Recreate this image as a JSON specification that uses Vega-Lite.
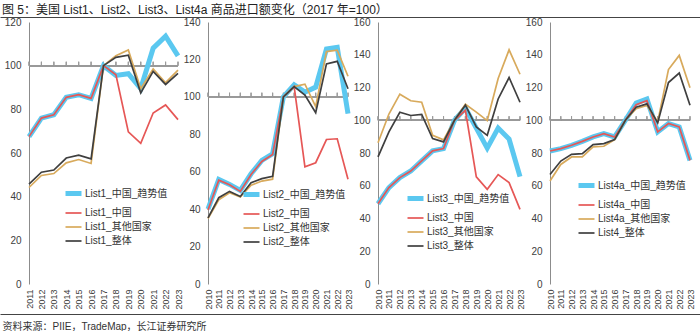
{
"$schema": "https://vega.github.io/schema/vega-lite/v6.json",
"padding": {"left": 0, "top": 4, "right": 0, "bottom": 0},
"title": {"text": "图 5：美国 List1、List2、List3、List4a 商品进口额变化（2017 年=100）", "anchor": "start", "frame": "group", "dx": -27, "offset": 0, "fontSize": 12, "fontWeight": "normal", "color": "#222222", "font": "Liberation Sans, Noto Sans CJK SC, sans-serif"},
"datasets": {
"p1": [
{"year":2011,"s":"List1_中国_趋势值","v":67.5},{"year":2012,"s":"List1_中国_趋势值","v":76},{"year":2013,"s":"List1_中国_趋势值","v":77.5},{"year":2014,"s":"List1_中国_趋势值","v":85.5},{"year":2015,"s":"List1_中国_趋势值","v":86.7},{"year":2016,"s":"List1_中国_趋势值","v":85},{"year":2017,"s":"List1_中国_趋势值","v":100},{"year":2018,"s":"List1_中国_趋势值","v":95.5},{"year":2019,"s":"List1_中国_趋势值","v":96.3},{"year":2020,"s":"List1_中国_趋势值","v":89.5},{"year":2021,"s":"List1_中国_趋势值","v":108},{"year":2022,"s":"List1_中国_趋势值","v":113.5},{"year":2023,"s":"List1_中国_趋势值","v":104.5},
{"year":2011,"s":"List1_中国","v":67.5},{"year":2012,"s":"List1_中国","v":76},{"year":2013,"s":"List1_中国","v":77.5},{"year":2014,"s":"List1_中国","v":85.5},{"year":2015,"s":"List1_中国","v":86.7},{"year":2016,"s":"List1_中国","v":85},{"year":2017,"s":"List1_中国","v":100},{"year":2018,"s":"List1_中国","v":95.8},{"year":2019,"s":"List1_中国","v":69.7},{"year":2020,"s":"List1_中国","v":64.4},{"year":2021,"s":"List1_中国","v":78.3},{"year":2022,"s":"List1_中国","v":82},{"year":2023,"s":"List1_中国","v":75.3},
{"year":2011,"s":"List1_其他国家","v":44.2},{"year":2012,"s":"List1_其他国家","v":49.7},{"year":2013,"s":"List1_其他国家","v":50.6},{"year":2014,"s":"List1_其他国家","v":55.5},{"year":2015,"s":"List1_其他国家","v":57},{"year":2016,"s":"List1_其他国家","v":55.2},{"year":2017,"s":"List1_其他国家","v":100},{"year":2018,"s":"List1_其他国家","v":104.5},{"year":2019,"s":"List1_其他国家","v":107.2},{"year":2020,"s":"List1_其他国家","v":89.4},{"year":2021,"s":"List1_其他国家","v":98.5},{"year":2022,"s":"List1_其他国家","v":92.2},{"year":2023,"s":"List1_其他国家","v":98},
{"year":2011,"s":"List1_整体","v":45.7},{"year":2012,"s":"List1_整体","v":51.2},{"year":2013,"s":"List1_整体","v":52.2},{"year":2014,"s":"List1_整体","v":57.7},{"year":2015,"s":"List1_整体","v":59},{"year":2016,"s":"List1_整体","v":57.3},{"year":2017,"s":"List1_整体","v":100},{"year":2018,"s":"List1_整体","v":103.8},{"year":2019,"s":"List1_整体","v":104.8},{"year":2020,"s":"List1_整体","v":87.5},{"year":2021,"s":"List1_整体","v":97.4},{"year":2022,"s":"List1_整体","v":91.4},{"year":2023,"s":"List1_整体","v":96.5}
],
"p2": [
{"year":2010,"s":"List2_中国_趋势值","v":40},{"year":2011,"s":"List2_中国_趋势值","v":55.9},{"year":2012,"s":"List2_中国_趋势值","v":53.2},{"year":2013,"s":"List2_中国_趋势值","v":50},{"year":2014,"s":"List2_中国_趋势值","v":58.9},{"year":2015,"s":"List2_中国_趋势值","v":66},{"year":2016,"s":"List2_中国_趋势值","v":69.6},{"year":2017,"s":"List2_中国_趋势值","v":100},{"year":2018,"s":"List2_中国_趋势值","v":106.4},{"year":2019,"s":"List2_中国_趋势值","v":102.5},{"year":2020,"s":"List2_中国_趋势值","v":105.2},{"year":2021,"s":"List2_中国_趋势值","v":125.6},{"year":2022,"s":"List2_中国_趋势值","v":126.5},{"year":2023,"s":"List2_中国_趋势值","v":91},
{"year":2010,"s":"List2_中国","v":39.5},{"year":2011,"s":"List2_中国","v":55.5},{"year":2012,"s":"List2_中国","v":53},{"year":2013,"s":"List2_中国","v":49.5},{"year":2014,"s":"List2_中国","v":58.5},{"year":2015,"s":"List2_中国","v":65.5},{"year":2016,"s":"List2_中国","v":69.2},{"year":2017,"s":"List2_中国","v":100},{"year":2018,"s":"List2_中国","v":105.5},{"year":2019,"s":"List2_中国","v":62.6},{"year":2020,"s":"List2_中国","v":64.8},{"year":2021,"s":"List2_中国","v":77.2},{"year":2022,"s":"List2_中国","v":77.6},{"year":2023,"s":"List2_中国","v":56},
{"year":2010,"s":"List2_其他国家","v":35},{"year":2011,"s":"List2_其他国家","v":45},{"year":2012,"s":"List2_其他国家","v":48.8},{"year":2013,"s":"List2_其他国家","v":46.5},{"year":2014,"s":"List2_其他国家","v":52.8},{"year":2015,"s":"List2_其他国家","v":55},{"year":2016,"s":"List2_其他国家","v":56},{"year":2017,"s":"List2_其他国家","v":100},{"year":2018,"s":"List2_其他国家","v":105.5},{"year":2019,"s":"List2_其他国家","v":106.8},{"year":2020,"s":"List2_其他国家","v":94.8},{"year":2021,"s":"List2_其他国家","v":124.2},{"year":2022,"s":"List2_其他国家","v":125},{"year":2023,"s":"List2_其他国家","v":111},
{"year":2010,"s":"List2_整体","v":35.3},{"year":2011,"s":"List2_整体","v":46.1},{"year":2012,"s":"List2_整体","v":49.5},{"year":2013,"s":"List2_整体","v":46.8},{"year":2014,"s":"List2_整体","v":54.1},{"year":2015,"s":"List2_整体","v":56.3},{"year":2016,"s":"List2_整体","v":57.5},{"year":2017,"s":"List2_整体","v":100},{"year":2018,"s":"List2_整体","v":105.5},{"year":2019,"s":"List2_整体","v":101},{"year":2020,"s":"List2_整体","v":91.5},{"year":2021,"s":"List2_整体","v":117.6},{"year":2022,"s":"List2_整体","v":119},{"year":2023,"s":"List2_整体","v":104.3}
],
"p3": [
{"year":2010,"s":"List3_中国_趋势值","v":49},{"year":2011,"s":"List3_中国_趋势值","v":58.9},{"year":2012,"s":"List3_中国_趋势值","v":65},{"year":2013,"s":"List3_中国_趋势值","v":69},{"year":2014,"s":"List3_中国_趋势值","v":75.2},{"year":2015,"s":"List3_中国_趋势值","v":81.3},{"year":2016,"s":"List3_中国_趋势值","v":82.7},{"year":2017,"s":"List3_中国_趋势值","v":100},{"year":2018,"s":"List3_中国_趋势值","v":107.5},{"year":2019,"s":"List3_中国_趋势值","v":95.2},{"year":2020,"s":"List3_中国_趋势值","v":83},{"year":2021,"s":"List3_中国_趋势值","v":95.2},{"year":2022,"s":"List3_中国_趋势值","v":88.5},{"year":2023,"s":"List3_中国_趋势值","v":65.6},
{"year":2010,"s":"List3_中国","v":49},{"year":2011,"s":"List3_中国","v":58.9},{"year":2012,"s":"List3_中国","v":65},{"year":2013,"s":"List3_中国","v":69},{"year":2014,"s":"List3_中国","v":75.2},{"year":2015,"s":"List3_中国","v":81.3},{"year":2016,"s":"List3_中国","v":82.7},{"year":2017,"s":"List3_中国","v":100},{"year":2018,"s":"List3_中国","v":106.1},{"year":2019,"s":"List3_中国","v":65.4},{"year":2020,"s":"List3_中国","v":57.8},{"year":2021,"s":"List3_中国","v":66.8},{"year":2022,"s":"List3_中国","v":61.9},{"year":2023,"s":"List3_中国","v":45.6},
{"year":2010,"s":"List3_其他国家","v":86.3},{"year":2011,"s":"List3_其他国家","v":103.8},{"year":2012,"s":"List3_其他国家","v":115.9},{"year":2013,"s":"List3_其他国家","v":111.9},{"year":2014,"s":"List3_其他国家","v":111},{"year":2015,"s":"List3_其他国家","v":90.8},{"year":2016,"s":"List3_其他国家","v":88},{"year":2017,"s":"List3_其他国家","v":100},{"year":2018,"s":"List3_其他国家","v":109.8},{"year":2019,"s":"List3_其他国家","v":105},{"year":2020,"s":"List3_其他国家","v":99.8},{"year":2021,"s":"List3_其他国家","v":125.5},{"year":2022,"s":"List3_其他国家","v":143},{"year":2023,"s":"List3_其他国家","v":128.1},
{"year":2010,"s":"List3_整体","v":77.6},{"year":2011,"s":"List3_整体","v":92.9},{"year":2012,"s":"List3_整体","v":104.9},{"year":2013,"s":"List3_整体","v":102.9},{"year":2014,"s":"List3_整体","v":103.5},{"year":2015,"s":"List3_整体","v":88.8},{"year":2016,"s":"List3_整体","v":86.8},{"year":2017,"s":"List3_整体","v":100},{"year":2018,"s":"List3_整体","v":109.2},{"year":2019,"s":"List3_整体","v":95.9},{"year":2020,"s":"List3_整体","v":90.8},{"year":2021,"s":"List3_整体","v":113},{"year":2022,"s":"List3_整体","v":126.1},{"year":2023,"s":"List3_整体","v":111}
],
"p4": [
{"year":2010,"s":"List4a_中国_趋势值","v":81.2},{"year":2011,"s":"List4a_中国_趋势值","v":82.7},{"year":2012,"s":"List4a_中国_趋势值","v":84.7},{"year":2013,"s":"List4a_中国_趋势值","v":87.1},{"year":2014,"s":"List4a_中国_趋势值","v":89.8},{"year":2015,"s":"List4a_中国_趋势值","v":91.8},{"year":2016,"s":"List4a_中国_趋势值","v":89.8},{"year":2017,"s":"List4a_中国_趋势值","v":100},{"year":2018,"s":"List4a_中国_趋势值","v":110.5},{"year":2019,"s":"List4a_中国_趋势值","v":113},{"year":2020,"s":"List4a_中国_趋势值","v":92.9},{"year":2021,"s":"List4a_中国_趋势值","v":98},{"year":2022,"s":"List4a_中国_趋势值","v":95.9},{"year":2023,"s":"List4a_中国_趋势值","v":75.5},
{"year":2010,"s":"List4a_中国","v":81.2},{"year":2011,"s":"List4a_中国","v":82.7},{"year":2012,"s":"List4a_中国","v":84.7},{"year":2013,"s":"List4a_中国","v":87.1},{"year":2014,"s":"List4a_中国","v":89.8},{"year":2015,"s":"List4a_中国","v":91.8},{"year":2016,"s":"List4a_中国","v":89.8},{"year":2017,"s":"List4a_中国","v":100},{"year":2018,"s":"List4a_中国","v":109.5},{"year":2019,"s":"List4a_中国","v":112},{"year":2020,"s":"List4a_中国","v":92.9},{"year":2021,"s":"List4a_中国","v":98},{"year":2022,"s":"List4a_中国","v":95.9},{"year":2023,"s":"List4a_中国","v":75.5},
{"year":2010,"s":"List4a_其他国家","v":62.9},{"year":2011,"s":"List4a_其他国家","v":73},{"year":2012,"s":"List4a_其他国家","v":77.6},{"year":2013,"s":"List4a_其他国家","v":77.6},{"year":2014,"s":"List4a_其他国家","v":83.7},{"year":2015,"s":"List4a_其他国家","v":84.1},{"year":2016,"s":"List4a_其他国家","v":88.2},{"year":2017,"s":"List4a_其他国家","v":100},{"year":2018,"s":"List4a_其他国家","v":107},{"year":2019,"s":"List4a_其他国家","v":109},{"year":2020,"s":"List4a_其他国家","v":99},{"year":2021,"s":"List4a_其他国家","v":131},{"year":2022,"s":"List4a_其他国家","v":139.6},{"year":2023,"s":"List4a_其他国家","v":119.9},
{"year":2010,"s":"List4_整体","v":66.9},{"year":2011,"s":"List4_整体","v":75.1},{"year":2012,"s":"List4_整体","v":79.2},{"year":2013,"s":"List4_整体","v":79.6},{"year":2014,"s":"List4_整体","v":85.1},{"year":2015,"s":"List4_整体","v":85.7},{"year":2016,"s":"List4_整体","v":88.2},{"year":2017,"s":"List4_整体","v":100},{"year":2018,"s":"List4_整体","v":108},{"year":2019,"s":"List4_整体","v":110},{"year":2020,"s":"List4_整体","v":98.4},{"year":2021,"s":"List4_整体","v":123},{"year":2022,"s":"List4_整体","v":128.8},{"year":2023,"s":"List4_整体","v":109.1}
],
"edge": [{"e": 0}, {"e": 1}]
},
"spacing": 30,
"bounds": "flush",
"resolve": {"scale": {"color": "independent", "strokeWidth": "independent"}},
"hconcat": [
{
"width": 149, "height": 262,
"data": {"name": "p1"},
"resolve": {"scale": {"x": "independent"}, "axis": {"x": "independent"}},
"layer": [
{"mark": {"type": "rule", "color": "#999999", "strokeWidth": 1}, "encoding": {"y": {"datum": 100, "type": "quantitative", "scale": {"domain": [0, 120]}, "axis": {"values": [0, 20, 40, 60, 80, 100, 120], "title": null}}}},
{"mark": {"type": "tick", "orient": "vertical", "size": 4, "thickness": 1, "color": "#999999", "yOffset": -2}, "encoding": {"x": {"field": "year", "type": "ordinal", "scale": {"type": "point", "padding": 0}, "axis": null}, "y": {"datum": 100, "type": "quantitative", "scale": {"domain": [0, 120]}, "axis": {"values": [0, 20, 40, 60, 80, 100, 120], "title": null}}}},
{"mark": {"type": "line"},
"encoding": {
"x": {"field": "year", "type": "ordinal", "scale": {"type": "point", "padding": 0}, "axis": {"title": null, "orient": "bottom"}},
"y": {"field": "v", "type": "quantitative", "scale": {"domain": [0, 120]}, "axis": {"values": [0, 20, 40, 60, 80, 100, 120], "title": null}},
"color": {"field": "s", "type": "nominal", "scale": {"domain": ["List1_中国_趋势值", "List1_中国", "List1_其他国家", "List1_整体"], "range": ["#5BC8F0", "#E65756", "#D8AA5C", "#3F3F3F"]}, "legend": {"orient": "none", "legendX": 34, "legendY": 161}},
"strokeWidth": {"field": "s", "type": "nominal", "scale": {"type": "ordinal", "domain": ["List1_中国_趋势值", "List1_中国", "List1_其他国家", "List1_整体"], "range": [5, 1.7, 1.7, 1.7]}, "legend": {"orient": "none", "legendX": 34, "legendY": 161}}
}},
{"data": {"name": "edge"}, "mark": {"type": "point", "opacity": 0, "size": 0},
"encoding": {"x": {"field": "e", "type": "quantitative", "scale": {"domain": [0, 1], "range": [-29, 671]}, "axis": {"orient": "top", "offset": 5, "domain": true, "domainColor": "#444444", "domainWidth": 1, "labels": false, "ticks": false, "title": null}}}},
{"data": {"name": "edge"}, "mark": {"type": "point", "opacity": 0, "size": 0},
"encoding": {"x": {"field": "e", "type": "quantitative", "scale": {"domain": [0, 1], "range": [-29, 671]}, "axis": {"orient": "bottom", "offset": 30, "domain": true, "domainColor": "#444444", "domainWidth": 1, "labels": false, "ticks": false, "title": "资料来源：PIIE，TradeMap，长江证券研究所", "titleAnchor": "start", "titleAlign": "left", "titleX": -27, "titleY": 12, "titleBaseline": "middle", "titleFontSize": 10, "titleFontWeight": "normal", "titleColor": "#333333", "titleFont": "Liberation Sans, Noto Sans CJK SC, sans-serif"}}}}
]
},
{
"width": 140, "height": 262,
"data": {"name": "p2"},
"layer": [
{"mark": {"type": "rule", "color": "#999999", "strokeWidth": 1}, "encoding": {"y": {"datum": 100, "type": "quantitative", "scale": {"domain": [0, 140]}, "axis": {"values": [0, 20, 40, 60, 80, 100, 120, 140], "title": null}}}},
{"mark": {"type": "tick", "orient": "vertical", "size": 4, "thickness": 1, "color": "#999999", "yOffset": -2}, "encoding": {"x": {"field": "year", "type": "ordinal", "scale": {"type": "point", "padding": 0}}, "y": {"datum": 100, "type": "quantitative", "scale": {"domain": [0, 140]}, "axis": {"values": [0, 20, 40, 60, 80, 100, 120, 140], "title": null}}}},
{"mark": {"type": "line"},
"encoding": {
"x": {"field": "year", "type": "ordinal", "scale": {"type": "point", "padding": 0}, "axis": {"title": null}},
"y": {"field": "v", "type": "quantitative", "scale": {"domain": [0, 140]}, "axis": {"values": [0, 20, 40, 60, 80, 100, 120, 140], "title": null}},
"color": {"field": "s", "type": "nominal", "scale": {"domain": ["List2_中国_趋势值", "List2_中国", "List2_其他国家", "List2_整体"], "range": ["#5BC8F0", "#E65756", "#D8AA5C", "#3F3F3F"]}, "legend": {"orient": "none", "legendX": 33, "legendY": 162}},
"strokeWidth": {"field": "s", "type": "nominal", "scale": {"type": "ordinal", "domain": ["List2_中国_趋势值", "List2_中国", "List2_其他国家", "List2_整体"], "range": [5, 1.7, 1.7, 1.7]}, "legend": {"orient": "none", "legendX": 33, "legendY": 162}}
}}
]
},
{
"width": 142, "height": 262,
"data": {"name": "p3"},
"layer": [
{"mark": {"type": "rule", "color": "#999999", "strokeWidth": 1}, "encoding": {"y": {"datum": 100, "type": "quantitative", "scale": {"domain": [0, 160]}, "axis": {"values": [0, 20, 40, 60, 80, 100, 120, 140, 160], "title": null}}}},
{"mark": {"type": "tick", "orient": "vertical", "size": 4, "thickness": 1, "color": "#999999", "yOffset": -2}, "encoding": {"x": {"field": "year", "type": "ordinal", "scale": {"type": "point", "padding": 0}}, "y": {"datum": 100, "type": "quantitative", "scale": {"domain": [0, 160]}, "axis": {"values": [0, 20, 40, 60, 80, 100, 120, 140, 160], "title": null}}}},
{"mark": {"type": "line"},
"encoding": {
"x": {"field": "year", "type": "ordinal", "scale": {"type": "point", "padding": 0}, "axis": {"title": null}},
"y": {"field": "v", "type": "quantitative", "scale": {"domain": [0, 160]}, "axis": {"values": [0, 20, 40, 60, 80, 100, 120, 140, 160], "title": null}},
"color": {"field": "s", "type": "nominal", "scale": {"domain": ["List3_中国_趋势值", "List3_中国", "List3_其他国家", "List3_整体"], "range": ["#5BC8F0", "#E65756", "#D8AA5C", "#3F3F3F"]}, "legend": {"orient": "none", "legendX": 27, "legendY": 166}},
"strokeWidth": {"field": "s", "type": "nominal", "scale": {"type": "ordinal", "domain": ["List3_中国_趋势值", "List3_中国", "List3_其他国家", "List3_整体"], "range": [5, 1.7, 1.7, 1.7]}, "legend": {"orient": "none", "legendX": 27, "legendY": 166}}
}}
]
},
{
"width": 140, "height": 262,
"data": {"name": "p4"},
"layer": [
{"mark": {"type": "rule", "color": "#999999", "strokeWidth": 1}, "encoding": {"y": {"datum": 100, "type": "quantitative", "scale": {"domain": [0, 160]}, "axis": {"values": [0, 20, 40, 60, 80, 100, 120, 140, 160], "title": null}}}},
{"mark": {"type": "tick", "orient": "vertical", "size": 4, "thickness": 1, "color": "#999999", "yOffset": -2}, "encoding": {"x": {"field": "year", "type": "ordinal", "scale": {"type": "point", "padding": 0}}, "y": {"datum": 100, "type": "quantitative", "scale": {"domain": [0, 160]}, "axis": {"values": [0, 20, 40, 60, 80, 100, 120, 140, 160], "title": null}}}},
{"mark": {"type": "line"},
"encoding": {
"x": {"field": "year", "type": "ordinal", "scale": {"type": "point", "padding": 0}, "axis": {"title": null}},
"y": {"field": "v", "type": "quantitative", "scale": {"domain": [0, 160]}, "axis": {"values": [0, 20, 40, 60, 80, 100, 120, 140, 160], "title": null}},
"color": {"field": "s", "type": "nominal", "scale": {"domain": ["List4a_中国_趋势值", "List4a_中国", "List4a_其他国家", "List4_整体"], "range": ["#5BC8F0", "#E65756", "#D8AA5C", "#3F3F3F"]}, "legend": {"orient": "none", "legendX": 26, "legendY": 153}},
"strokeWidth": {"field": "s", "type": "nominal", "scale": {"type": "ordinal", "domain": ["List4a_中国_趋势值", "List4a_中国", "List4a_其他国家", "List4_整体"], "range": [5, 1.7, 1.7, 1.7]}, "legend": {"orient": "none", "legendX": 26, "legendY": 153}}
}}
]
}
],
"config": {
"font": "Liberation Sans, Noto Sans CJK SC, sans-serif",
"view": {"stroke": null},
"axis": {"labelFont": "Liberation Sans, Noto Sans CJK SC, sans-serif", "labelColor": "#404040", "domainColor": "#8c8c8c", "grid": false, "ticks": false, "tickSize": 0, "labelOverlap": false},
"axisX": {"domain": false, "labelAngle": -90, "labelFontSize": 9, "labelPadding": 5, "labelAlign": "right", "labelBaseline": "middle"},
"axisY": {"labelFontSize": 10, "labelPadding": 8, "labelFlush": false},
"legend": {"title": null, "symbolType": "stroke", "symbolSize": 256, "labelFontSize": 10, "labelColor": "#333333", "labelFont": "Liberation Sans, Noto Sans CJK SC, sans-serif", "rowPadding": 0, "labelOffset": 1, "padding": 0}
}
}
